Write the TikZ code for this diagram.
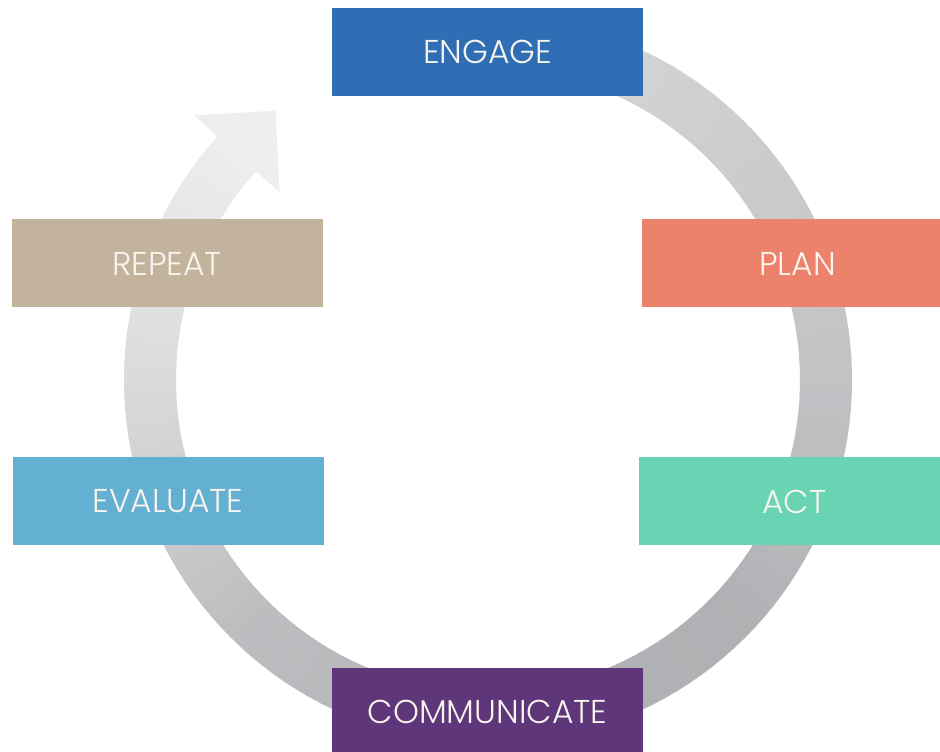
\documentclass[tikz,border=0pt]{standalone}
\usepackage{fontspec}
\setmainfont{Poppins}[UprightFont={* Light}]
\usetikzlibrary{calc}
\definecolor{engagecol}{HTML}{2F6EB5}
\definecolor{plancol}{HTML}{EC826C}
\definecolor{actcol}{HTML}{69D4B4}
\definecolor{evalcol}{HTML}{64B0D3}
\definecolor{repeatcol}{HTML}{C3B29C}
\definecolor{commcol}{HTML}{5E3679}
\definecolor{boxtext}{HTML}{F8F4EE}
\definecolor{ringlight}{HTML}{F0F0F1}
\definecolor{ringdark}{HTML}{ACADB0}
\definecolor{arrowcol}{HTML}{EEEEEF}
\begin{document}
\begin{tikzpicture}[x=1pt,y=1pt,
  stagebox/.style={rectangle, minimum width=311pt, minimum height=88pt, inner sep=0pt,
    text=boxtext, font=\fontsize{33}{39}\selectfont}]
\clip (0,0) rectangle (940,752);
\fill[white] (0,0) rectangle (940,752);
\coordinate (c) at (488,372);
% gradient ring, drawn clockwise from behind ENGAGE to the arrow head
\foreach \a/\b/\p/\q in {80/0/38/68, 0/-45/68/94, -45/-90/94/90, -90/-135/90/75, -135/-180/75/32, -180/-222/32/4}{
  \foreach \i in {0,...,19}{
    \pgfmathsetmacro\s{\a+(\b-\a)*\i/20}
    \pgfmathsetmacro\e{\a+(\b-\a)*(\i+1)/20-0.4}
    \pgfmathsetmacro\m{\p+(\q-\p)*(\i+0.5)/20}
    \draw[line width=52pt, draw=ringdark!\m!ringlight] (c) ++(\s:338) arc[start angle=\s, end angle=\e, radius=338];
  }
}
% arrow head
\path (c) ++(138:338) coordinate (B);
\coordinate (hl) at ([shift={(138:57.5)}]B);
\coordinate (hr) at ([shift={(138:-57.5)}]B);
\coordinate (ht) at ([shift={(48:58)}]B);
\fill[arrowcol] (hl) -- (ht) -- (hr) -- cycle;
% boxes
\node[stagebox, fill=engagecol] (engage) at (487.5,700) {ENGAGE};
\node[stagebox, fill=plancol] (plan) at (797.5,488.5) {PLAN};
\node[stagebox, fill=actcol] (act) at (794.5,250.5) {ACT};
\node[stagebox, fill=commcol] (comm) at (487.5,40) {COMMUNICATE};
\node[stagebox, fill=evalcol] (eval) at (168,250.5) {EVALUATE};
\node[stagebox, fill=repeatcol] (repeat) at (167,488.5) {REPEAT};
\end{tikzpicture}
\end{document}
